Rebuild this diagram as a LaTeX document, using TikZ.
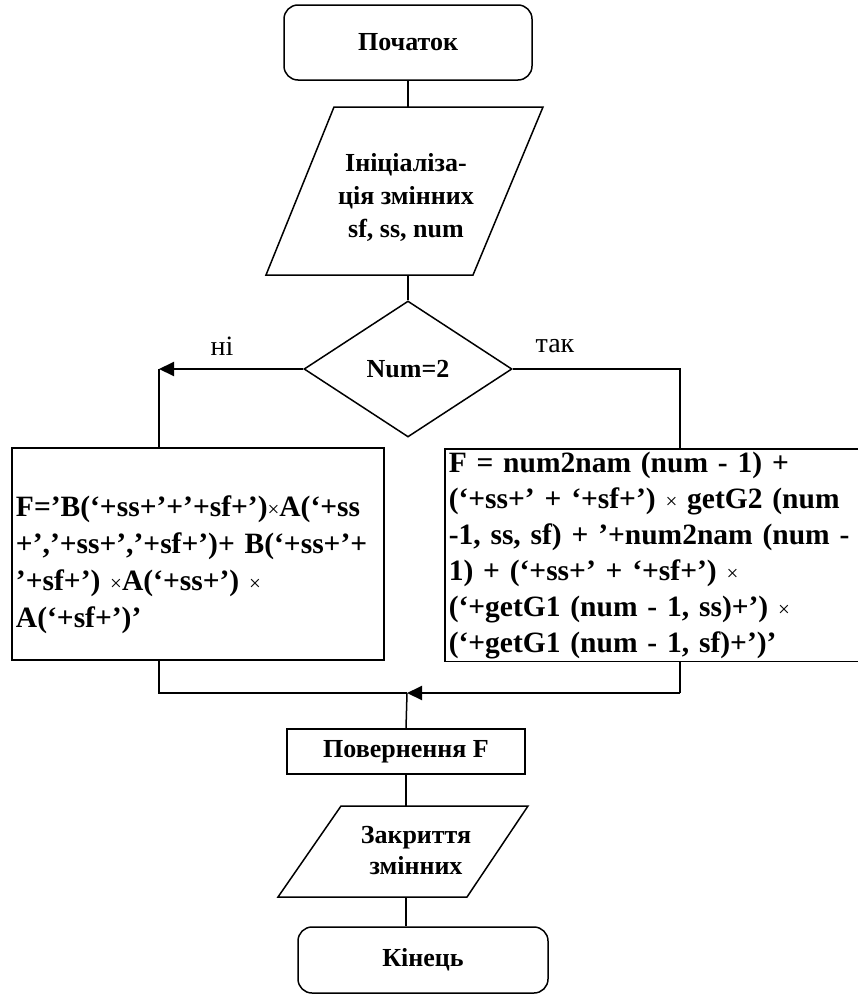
\documentclass[tikz,border=0pt]{standalone}
\usepackage{fontspec}
\setmainfont{Liberation Serif}
\usetikzlibrary{shapes.geometric,arrows.meta}
\tikzset{
  line/.style={line width=1.5pt},
  arr/.style={line width=2pt,-{Triangle[length=15pt,width=14pt]}},
  big/.style={font=\bfseries\fontsize{26}{33}\selectfont},
  formula/.style={font=\bfseries\fontsize{29.5}{37}\selectfont,align=left},
  term/.style={draw,line,big,rounded corners=14pt,minimum height=75pt},
  procbox/.style={draw,line,inner xsep=4pt,inner ysep=2pt},
  cond/.style={draw,line,big,diamond,inner sep=0pt,minimum width=208pt,minimum height=136pt},
  lbl/.style={font=\fontsize{28}{30}\selectfont}
}
\newcommand{\tms}{{\normalfont\fontsize{21}{21}\selectfont ×}}

\begin{document}
\begin{tikzpicture}[x=1pt,y=-1pt]
\clip (0,0) rectangle (858,1001);
\node[term,minimum width=248pt] (start) at (408,42.5) {Початок};
% input
\coordinate (init-n) at (408,107);
\coordinate (init-s) at (408,275);
\draw[line] (334,107) -- (543,107) -- (473,275) -- (266,275) -- cycle;
\node[big,align=center] (init) at (406,197) {Ініціаліза-\\ція змінних\\sf, ss, num};
\node[cond] (cond) at (408,369) {Num=2};
\node[lbl] (no) at (222,346) {ні};
\node[lbl] (yes) at (555,346) {так};
\coordinate (nleft) at (159,369);
\coordinate (yright) at (680,369);
\coordinate (join) at (407,693);
\node[procbox,minimum width=372pt,minimum height=212pt] (fleft) at (198,554) {};
\node[formula,text width=364pt] (fleft-txt) at (198,565)
  {F=’B(‘+ss+’+’+sf+’)\tms A(‘+ss\\+’,’+ss+’,’+sf+’)+ B(‘+ss+’+\\’+sf+’) \tms A(‘+ss+’) \tms\\A(‘+sf+’)’};
\node[procbox,formula,font=\bfseries\fontsize{29.5}{36}\selectfont,anchor=north west,minimum width=426pt,minimum height=209pt,text width=418pt,inner ysep=3pt] (fright) at (444,448)
  {F = num2nam (num - 1) +\\(‘+ss+’ + ‘+sf+’) \tms{} getG2 (num\\-1, ss, sf) + ’+num2nam (num -\\1) + (‘+ss+’ + ‘+sf+’) \tms\\(‘+getG1 (num - 1, ss)+’) \tms\\(‘+getG1 (num - 1, sf)+’)’};
\node[procbox,big,minimum width=238pt,minimum height=45pt] (ret) at (406,751.5) {Повернення F};
% output
\coordinate (close-n) at (406,806);
\coordinate (close-s) at (406,897);
\draw[line] (341,806) -- (528,806) -- (467,897) -- (278,897) -- cycle;
\node[big,align=center,font=\bfseries\fontsize{26}{31}\selectfont] (close) at (416,851) {Закриття\\змінних};
\node[term,minimum width=250pt,minimum height=66pt] (end) at (423,960) {Кінець};
% connectors
\draw[line] (start.south) -- (init-n);
\draw[line] (init-s) -- (cond.north);
\draw[arr] (cond.west) -- (nleft);
\draw[line] (nleft) -- (nleft |- fleft.north);
\draw[line] (cond.east) -- (yright) -- (yright |- fright.north);
\draw[line] (nleft |- fleft.south) -- (nleft |- join) -- (join);
\draw[line] (yright |- fright.south) -- (yright |- join);
\draw[arr] (yright |- join) -- (join);
\draw[line] (join) -- (ret.north);
\draw[line] (ret.south) -- (close-n);
\draw[line] (close-s) -- (close-s |- end.north);
\end{tikzpicture}
\end{document}
